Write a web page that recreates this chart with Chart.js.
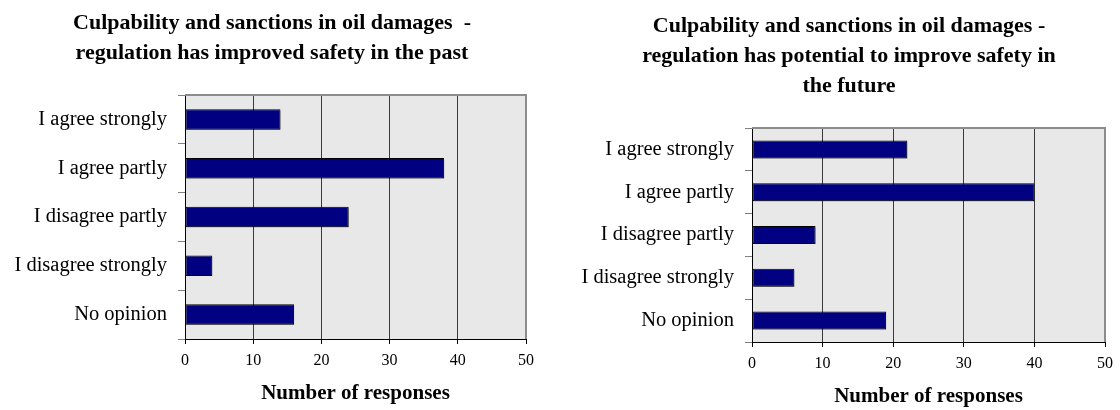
<!DOCTYPE html>
<html>
<head>
<meta charset="utf-8">
<script src="https://cdn.jsdelivr.net/npm/chart.js@4.4.1/dist/chart.umd.min.js"></script>
<style>
  html, body { margin: 0; padding: 0; background: #ffffff; }
  #wrap { position: relative; width: 1120px; height: 410px; }
  .box { position: absolute; top: 0; width: 560px; height: 410px; }
  #boxA { left: 0; }
  #boxB { left: 560px; }
</style>
</head>
<body>
<div id="wrap">
  <div class="box" id="boxA"><canvas id="chartA"></canvas></div>
  <div class="box" id="boxB"><canvas id="chartB"></canvas></div>
</div>
<script>
// ---- data ----
const categories = ['I agree strongly', 'I agree partly', 'I disagree partly', 'I disagree strongly', 'No opinion'];
const pastValues = [14, 38, 24, 4, 16];
const futureValues = [22, 40, 9, 6, 19];
const xTickValues = [0, 10, 20, 30, 40, 50];
const titlePast = ['Culpability and sanctions in oil damages  -', 'regulation has improved safety in the past'];
const titleFuture = ['Culpability and sanctions in oil damages -', 'regulation has potential to improve safety in', 'the future'];
const xAxisTitle = 'Number of responses';

const SERIF = "'Liberation Serif', 'Times New Roman', serif";

const plotBgPlugin = {
  id: 'plotBg',
  beforeDraw(chart) {
    const a = chart.chartArea, c = chart.ctx;
    c.save();
    c.fillStyle = '#e8e8e8';
    c.fillRect(a.left, a.top, a.right - a.left, a.bottom - a.top);
    c.restore();
  },
  afterDraw(chart) {
    const a = chart.chartArea, c = chart.ctx;
    c.save();
    c.strokeStyle = '#8c8c8c';
    c.lineWidth = 2;
    c.beginPath();
    c.moveTo(a.left, a.top);
    c.lineTo(a.right, a.top);
    c.lineTo(a.right, a.bottom);
    c.stroke();
    c.restore();
  }
};

const shadowPlugin = {
  id: 'barShadow',
  beforeDatasetsDraw(chart) {
    const c = chart.ctx;
    c.save();
    c.shadowColor = 'rgba(0,0,0,0.3)';
    c.shadowOffsetX = 1.5;
    c.shadowOffsetY = 1.5;
    c.shadowBlur = 0;
  },
  afterDatasetsDraw(chart) { chart.ctx.restore(); }
};

const titlePlugin = {
  id: 'blockTitle',
  afterDraw(chart, args, opts) {
    const c = chart.ctx;
    c.save();
    c.fillStyle = '#000';
    c.font = 'bold ' + opts.size + 'px ' + SERIF;
    c.textAlign = 'center';
    c.textBaseline = 'middle';
    opts.lines.forEach((t, i) => c.fillText(t, opts.centerX, opts.firstY + i * opts.gap));
    c.restore();
  }
};

function makeChart(id, values, titleLines, g) {
  return new Chart(document.getElementById(id), {
    type: 'bar',
    data: {
      labels: categories,
      datasets: [{
        data: values,
        backgroundColor: '#000080',
        borderColor: '#000000',
        borderWidth: 1,
        borderSkipped: false,
        barPercentage: 0.42,
        categoryPercentage: 1.0
      }]
    },
    options: {
      indexAxis: 'y',
      responsive: true,
      maintainAspectRatio: false,
      animation: false,
      layout: { padding: { left: 0, right: g.padRight, top: g.top, bottom: 0 } },
      plugins: {
        legend: { display: false },
        tooltip: { enabled: false },
        title: { display: false },
        blockTitle: { lines: titleLines, centerX: g.titleX, firstY: g.titleY, gap: 30, size: 22 }
      },
      scales: {
        x: {
          type: 'linear',
          min: 0,
          max: 50,
          afterBuildTicks(scale) { scale.ticks = xTickValues.map(v => ({ value: v })); },
          afterFit(scale) { scale.height = g.xHeight; },
          grid: {
            drawOnChartArea: true,
            color: (ctx) => (ctx.tick && ctx.tick.value === 50) ? 'rgba(0,0,0,0)' : '#3a3a3a',
            tickColor: '#000',
            tickLength: 5,
            lineWidth: 1
          },
          border: { display: true, color: '#000', width: 1 },
          ticks: {
            color: '#000',
            font: { family: SERIF, size: 16 },
            padding: 7,
            maxRotation: 0
          },
          title: {
            display: true,
            text: xAxisTitle,
            color: '#000',
            font: { family: SERIF, size: 21, weight: 'bold' },
            padding: { top: 0, bottom: g.titlePadB }
          }
        },
        y: {
          type: 'category',
          afterFit(scale) { scale.width = g.left; },
          grid: {
            offset: true,
            drawOnChartArea: false,
            drawTicks: true,
            tickLength: 7,
            tickColor: '#808080',
            color: '#808080'
          },
          border: { display: true, color: '#000', width: 1 },
          ticks: {
            color: '#000',
            font: { family: SERIF, size: 20.5 },
            padding: 11,
            autoSkip: false
          }
        }
      }
    },
    plugins: [plotBgPlugin, shadowPlugin, titlePlugin]
  });
}

makeChart('chartA', pastValues, titlePast,
  { left: 185, padRight: 34, top: 95, xHeight: 71, titlePadB: 4, titleX: 272, titleY: 23 });
makeChart('chartB', futureValues, titleFuture,
  { left: 192, padRight: 11, top: 128, xHeight: 68, titlePadB: 1, titleX: 289, titleY: 26 });
</script>
</body>
</html>
